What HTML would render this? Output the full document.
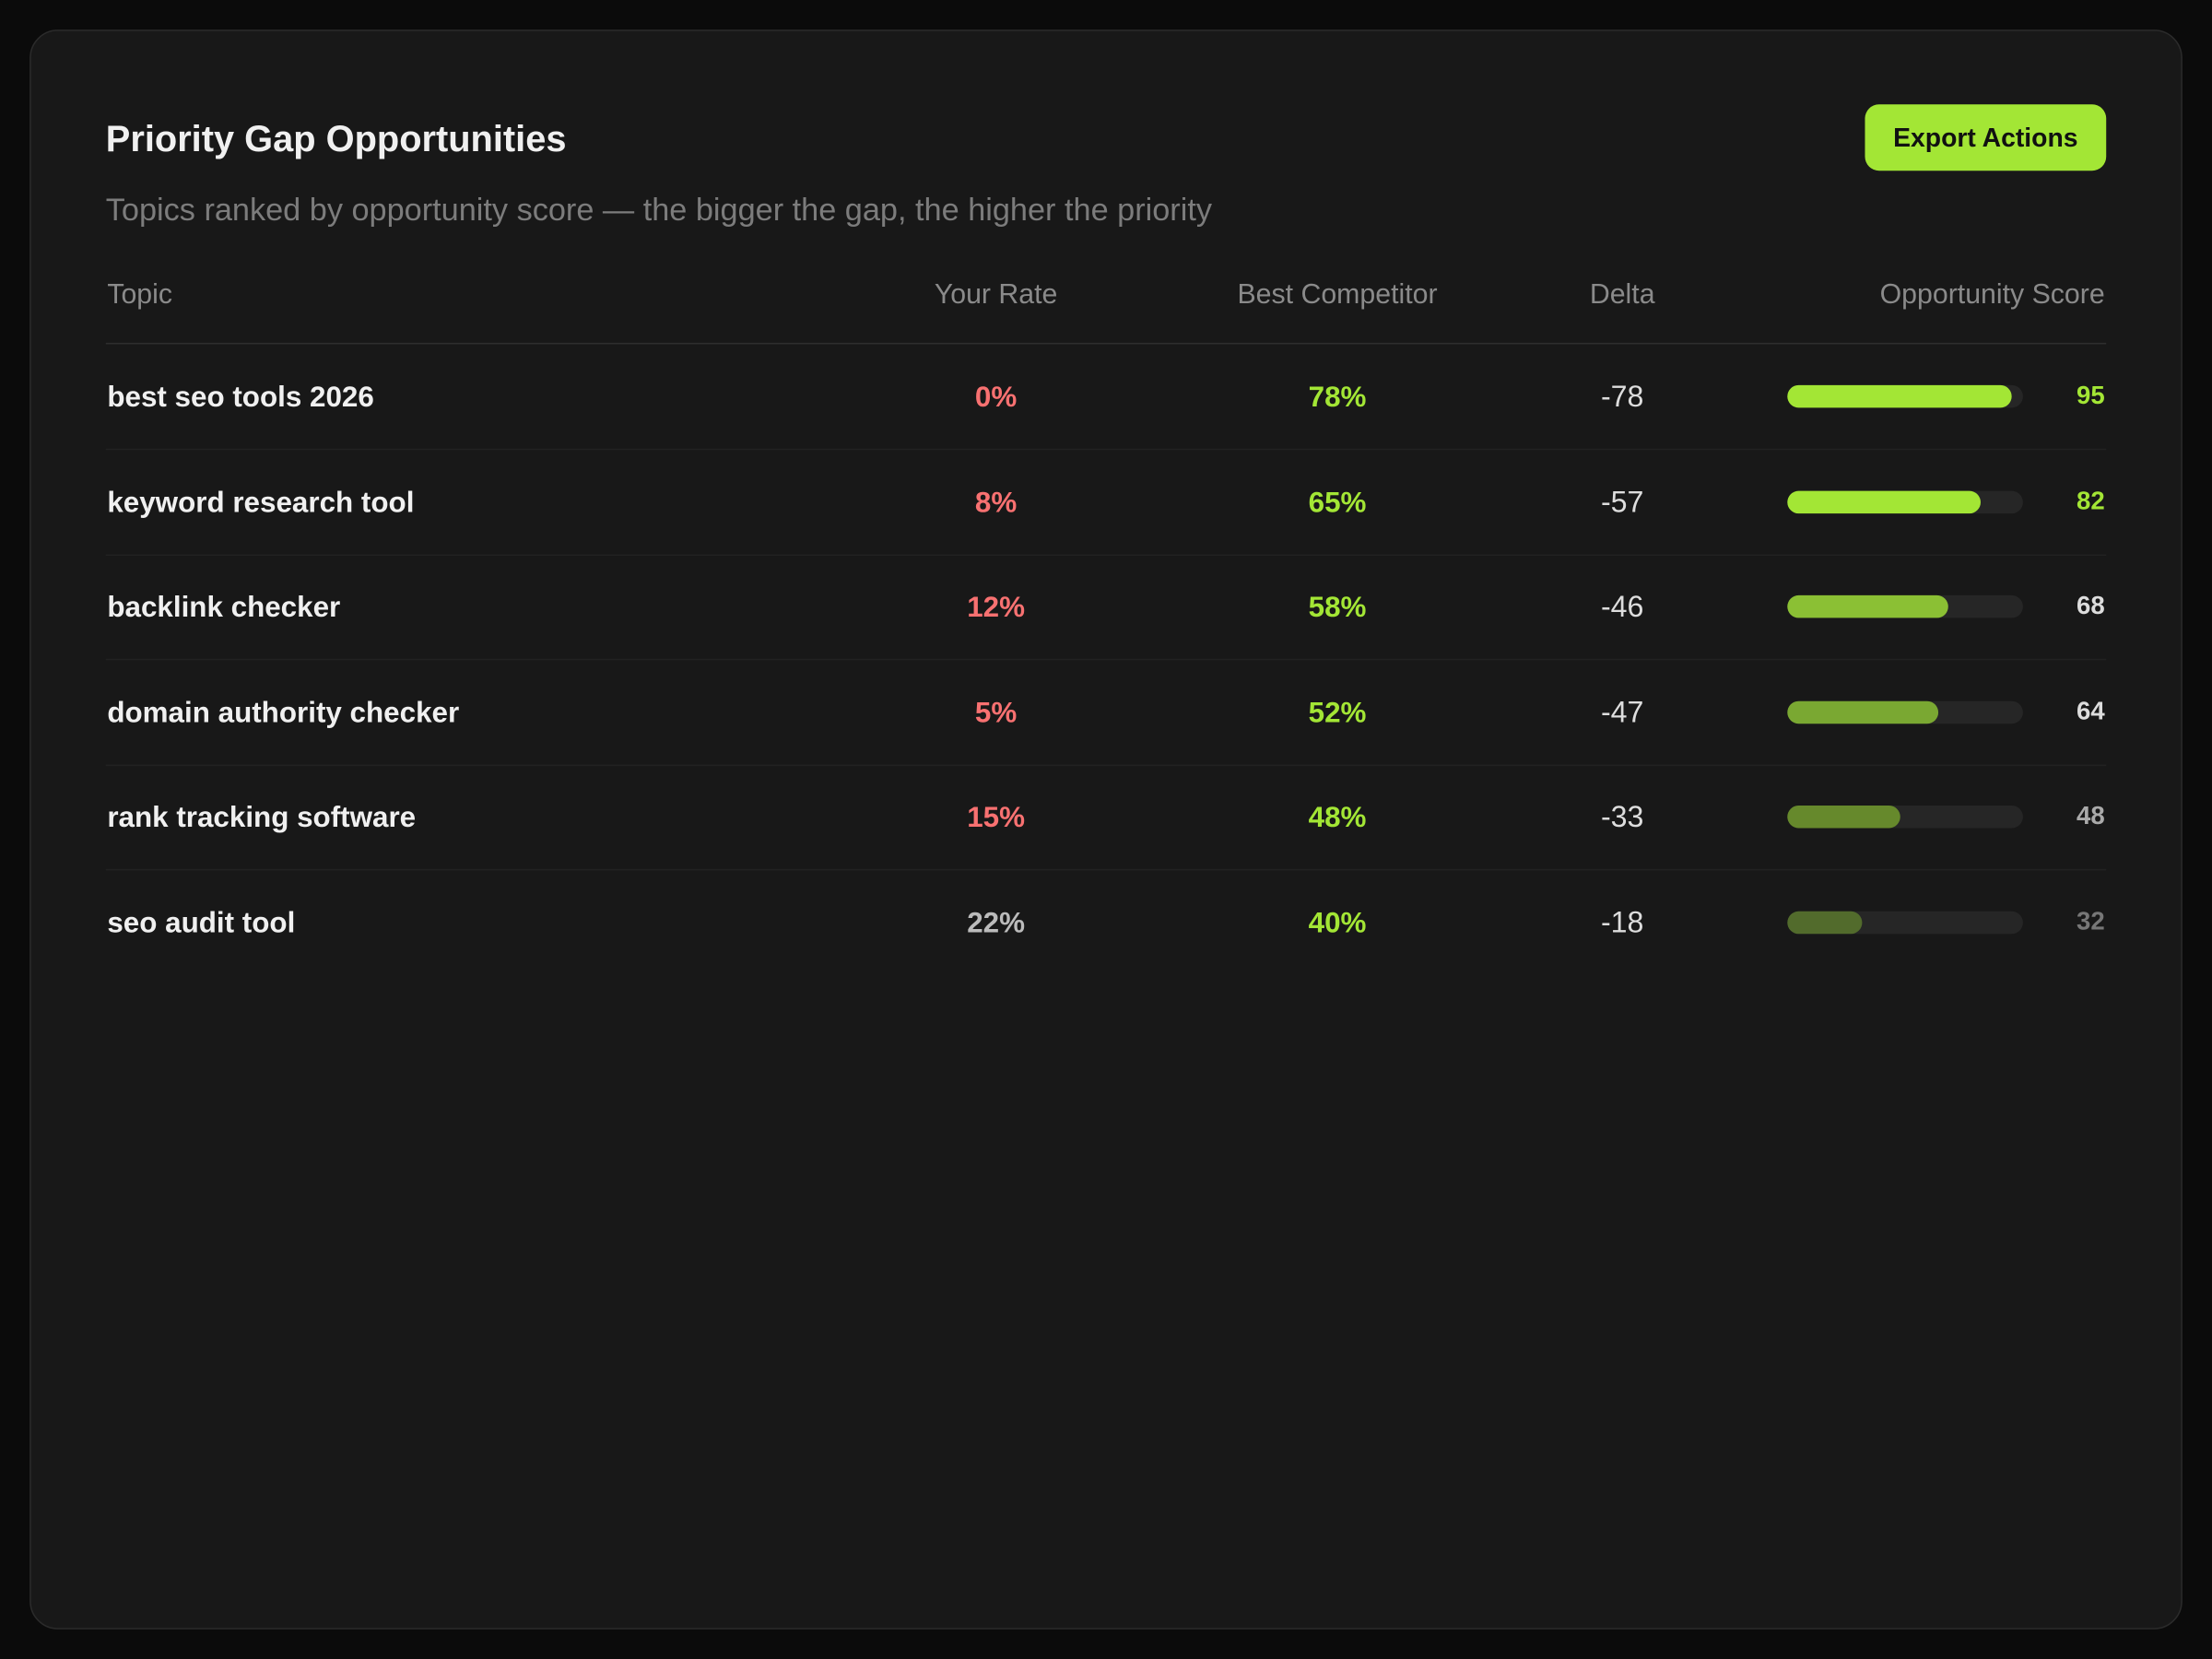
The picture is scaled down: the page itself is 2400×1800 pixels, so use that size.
<!DOCTYPE html>
<html><head><meta charset="utf-8"><style>
html,body{margin:0;padding:0;background:#0b0b0b;width:2400px;height:1800px;overflow:hidden}
#w{position:absolute;left:0;top:0;width:1568px;height:1176px;transform:scale(1.530612);transform-origin:0 0;font-family:"Liberation Sans",sans-serif}
.card{position:absolute;left:21px;top:21px;width:1524px;height:1132px;background:#181818;border:1px solid #2b2b2b;border-radius:20px}
.a{position:absolute;white-space:nowrap}
.t{left:75px;top:83px;font-size:26px;font-weight:bold;color:#f0f0f0}
.s{left:75px;top:136px;font-size:22.4px;color:#7c7c7c}
.btn{left:1322px;top:74px;width:171px;height:47px;background:#a3e635;border-radius:10px;color:#111;font-weight:bold;font-size:18.5px;line-height:47px;text-align:center}
.h{font-size:19.8px;color:#8a8a8a;top:198px}
.c{transform:translateX(-50%)}
.line{position:absolute;left:75px;width:1418px;height:1px}
.r{font-size:20.5px;font-weight:bold}
.trk{position:absolute;left:1267px;width:167px;height:16px;border-radius:8px;background:#262626}
.fill{height:16px;border-radius:8px}
.n{font-size:18px;font-weight:bold;right:76px}
</style></head><body><div id="w">
<div class="card"></div>
<div class="a t">Priority Gap Opportunities</div>
<div class="a s">Topics ranked by opportunity score — the bigger the gap, the higher the priority</div>
<div class="a btn">Export Actions</div>
<div class="a h" style="left:76px">Topic</div>
<div class="a h c" style="left:706px">Your Rate</div>
<div class="a h c" style="left:948px">Best Competitor</div>
<div class="a h c" style="left:1150px">Delta</div>
<div class="a h" style="right:76px">Opportunity Score</div>
<div class="line" style="top:243px;background:#2e2e2e"></div>
<div id="rows"></div>
</div>
<script>
var d=[["best seo tools 2026","0%","#f87171","78%","-78",95,"#a3e635","#a3e635"],
["keyword research tool","8%","#f87171","65%","-57",82,"#a3e635","#a3e635"],
["backlink checker","12%","#f87171","58%","-46",68,"#8bc034","#dddddd"],
["domain authority checker","5%","#f87171","52%","-47",64,"#7aa832","#dddddd"],
["rank tracking software","15%","#f87171","48%","-33",48,"#66892c","#aaaaaa"],
["seo audit tool","22%","#bbbbbb","40%","-18",32,"#526b2c","#777777"]];
var h="";
d.forEach(function(r,i){var cy=281+i*74.5,ty=cy-11;
h+='<div class="a r" style="left:76px;top:'+ty+'px;color:#f0f0f0">'+r[0]+'</div>';
h+='<div class="a r c" style="left:706px;top:'+ty+'px;color:'+r[2]+'">'+r[1]+'</div>';
h+='<div class="a r c" style="left:948px;top:'+ty+'px;color:#a3e635">'+r[3]+'</div>';
h+='<div class="a r c" style="left:1150px;top:'+ty+'px;color:#dddddd;font-weight:normal;font-size:21px">'+r[4]+'</div>';
h+='<div class="trk" style="top:'+(cy-8)+'px"><div class="fill" style="width:'+r[5]+'%;background:'+r[6]+'"></div></div>';
h+='<div class="a n" style="top:'+(cy-11)+'px;color:'+r[7]+'">'+r[5]+'</div>';
if(i<5)h+='<div class="line" style="top:'+(cy+37)+'px;background:#222"></div>';});
document.getElementById("rows").innerHTML=h;
</script>
</body></html>
